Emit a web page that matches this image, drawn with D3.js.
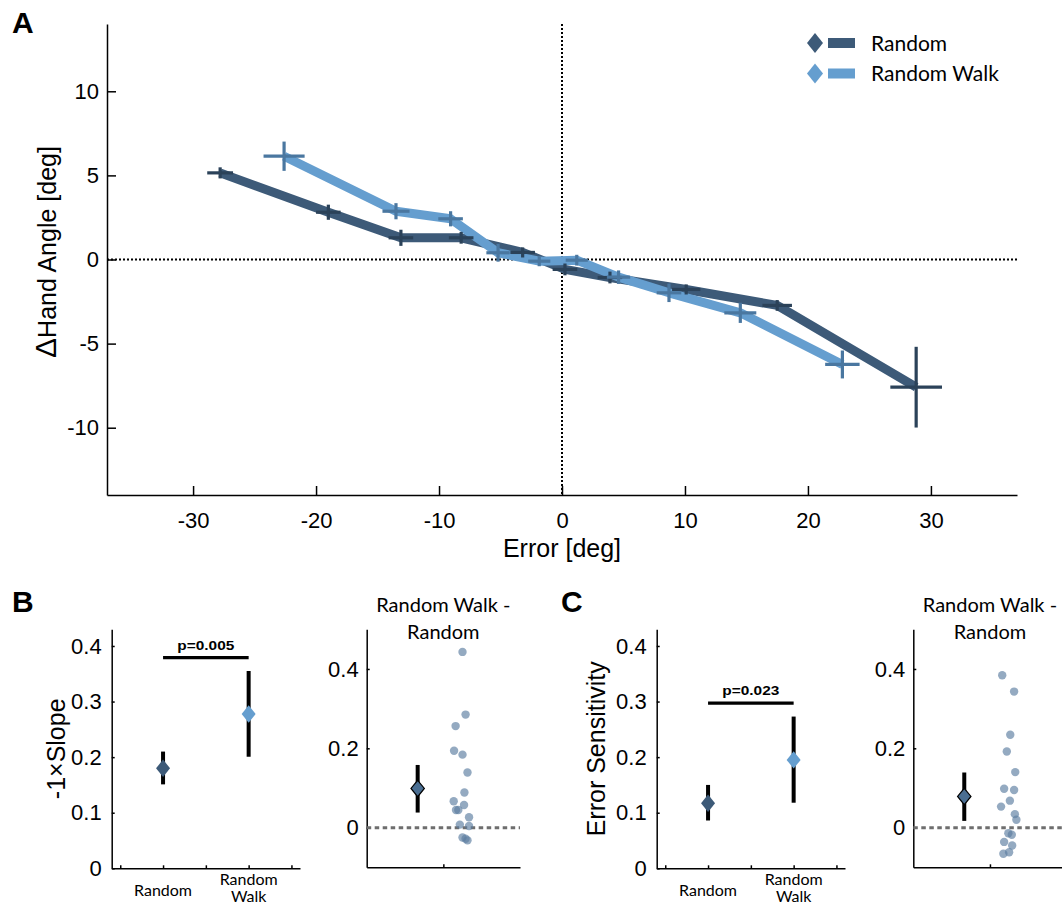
<!DOCTYPE html>
<meta charset="utf-8">
<style>
body { margin: 0; background: #fff; }
svg { display: block; }
.tick text { font-family: "Liberation Sans", Arial, sans-serif; font-size: 22px; fill: #000; }
.axis path, .axis line { stroke: #000; stroke-width: 1.5; fill: none; }
.cal { font-family: Lato, "Open Sans", sans-serif; fill: #000; }
</style>
<body>
<script src="https://d3js.org/d3.v7.min.js"></script>
<script>
// panel A: binned error vs change in hand angle
var errRandom   = [-27.8, -19.0, -13.1, -8.2, -3.2, 0.24, 3.9, 10.1, 17.5, 28.8];
var dhaRandom   = [5.15, 2.81, 1.29, 1.29, 0.42, -0.59, -1.07, -1.78, -2.73, -7.59];
var errSeRandom = [1.05, 1.0, 1.0, 1.0, 1.0, 1.0, 1.0, 1.15, 1.2, 2.1];
var dhaSeRandom = [0.33, 0.45, 0.48, 0.35, 0.3, 0.35, 0.35, 0.3, 0.32, 2.4];

var errWalk   = [-22.6, -13.5, -9.06, -5.2, -1.85, 1.2, 4.6, 8.7, 14.5, 22.8];
var dhaWalk   = [6.14, 2.87, 2.42, 0.4, -0.1, -0.04, -1.05, -1.98, -3.17, -6.24];
var errSeWalk = [1.67, 1.1, 1.0, 0.95, 0.9, 0.9, 0.95, 1.0, 1.3, 1.4];
var dhaSeWalk = [0.87, 0.48, 0.45, 0.53, 0.3, 0.32, 0.4, 0.55, 0.6, 0.83];

var xTicksA = [-30, -20, -10, 0, 10, 20, 30];
var yTicksA = [-10, -5, 0, 5, 10];

// panels B and C: group means with CI
var groups = ["Random", "Random Walk"];
var slopeMean = [0.18, 0.2775];
var slopeLo   = [0.151, 0.2007];
var slopeHi   = [0.21, 0.355];
var slopeP    = "p=0.005";
var slopeBar  = 0.379;

var sensMean = [0.117, 0.195];
var sensLo   = [0.086, 0.118];
var sensHi   = [0.15, 0.273];
var sensP    = "p=0.023";
var sensBar  = 0.297;

// difference (Random Walk - Random), per participant
var slopeDiff = [0.443, 0.285, 0.256, 0.194, 0.184, 0.139, 0.0886, 0.0666, 0.057, 0.0446, 0.0446, 0.026, 0.0076, 0.004, -0.025, -0.028, -0.032];
var slopeDiffX = [2.50, 2.58, 2.32, 2.28, 2.50, 2.63, 2.55, 2.27, 2.54, 2.33, 2.39, 2.67, 2.43, 2.67, 2.50, 2.58, 2.63];
var slopeDiffMean = 0.0987, slopeDiffLo = 0.038, slopeDiffHi = 0.158;

var sensDiff = [0.384, 0.343, 0.234, 0.192, 0.14, 0.098, 0.095, 0.068, 0.053, 0.034, 0.020, -0.014, -0.018, -0.036, -0.045, -0.062, -0.066];
var sensDiffX = [2.32, 2.63, 2.53, 2.44, 2.66, 2.37, 2.63, 2.52, 2.29, 2.65, 2.69, 2.48, 2.57, 2.37, 2.58, 2.50, 2.35];
var sensDiffMean = 0.0785, sensDiffLo = 0.017, sensDiffHi = 0.139;

var dark = "#3d5a78", light = "#659ecf";
var darkCross = "#2b4259", lightCross = "#4a77a0";

var svg = d3.select("body").append("svg")
    .attr("width", 1062)
    .attr("height", 905);

function diamond(hw, hh) {
  return "M0," + (-hh) + "L" + hw + ",0L0," + hh + "L" + (-hw) + ",0Z";
}

// plain hyphen for negatives, like the original
function plain(d) { return String(d); }

// ---------- panel A ----------
var x = d3.scaleLinear().domain([-37, 37]).range([107, 1017]);
var y = d3.scaleLinear().domain([-14, 14]).range([495, 24]);

svg.append("g")
    .attr("class", "axis")
    .attr("transform", "translate(0," + y(-14) + ")")
    .call(d3.axisBottom(x).tickValues(xTicksA).tickFormat(plain).tickSizeInner(-9).tickSizeOuter(0).tickPadding(17));

svg.append("g")
    .attr("class", "axis")
    .attr("transform", "translate(" + x(-37) + ",0)")
    .call(d3.axisLeft(y).tickValues(yTicksA).tickFormat(plain).tickSizeInner(-9).tickSizeOuter(0).tickPadding(8));

// zero reference lines
svg.append("line")
    .attr("x1", x(-37)).attr("x2", x(37))
    .attr("y1", y(0)).attr("y2", y(0))
    .style("stroke", "#000").style("stroke-width", 2).style("stroke-dasharray", "2,2");
svg.append("line")
    .attr("x1", x(0)).attr("x2", x(0))
    .attr("y1", y(14)).attr("y2", y(-14))
    .style("stroke", "#000").style("stroke-width", 2).style("stroke-dasharray", "2,2");

var line = d3.line()
    .x(function(d) { return x(d[0]); })
    .y(function(d) { return y(d[1]); });

var ptsR = errRandom.map(function(e, i) { return [e, dhaRandom[i], errSeRandom[i], dhaSeRandom[i]]; });
var ptsW = errWalk.map(function(e, i) { return [e, dhaWalk[i], errSeWalk[i], dhaSeWalk[i]]; });

svg.append("path").datum(ptsR)
    .attr("d", line)
    .style("fill", "none").style("stroke", dark).style("stroke-width", 9).style("stroke-linejoin", "round");
svg.append("path").datum(ptsW)
    .attr("d", line)
    .style("fill", "none").style("stroke", light).style("stroke-width", 9).style("stroke-linejoin", "round");

function crosses(pts, color) {
  var g = svg.append("g").style("stroke", color).style("stroke-width", 3.2);
  g.selectAll(".h").data(pts).enter().append("line")
      .attr("x1", function(d) { return x(d[0] - d[2]); })
      .attr("x2", function(d) { return x(d[0] + d[2]); })
      .attr("y1", function(d) { return y(d[1]); })
      .attr("y2", function(d) { return y(d[1]); });
  g.selectAll(".v").data(pts).enter().append("line")
      .attr("x1", function(d) { return x(d[0]); })
      .attr("x2", function(d) { return x(d[0]); })
      .attr("y1", function(d) { return y(d[1] - d[3]); })
      .attr("y2", function(d) { return y(d[1] + d[3]); });
}
crosses(ptsR, darkCross);
crosses(ptsW, lightCross);

svg.append("text")
    .attr("x", x(0)).attr("y", 557)
    .attr("text-anchor", "middle")
    .style("font-family", "Liberation Sans, Arial, sans-serif")
    .style("font-size", "25px")
    .text("Error [deg]");

var yl = svg.append("text")
    .attr("transform", "translate(56,252) rotate(-90)")
    .attr("text-anchor", "middle")
    .style("font-family", "Liberation Sans, Arial, sans-serif")
    .style("font-size", "25px");
yl.append("tspan").style("font-size", "30px").text("\u0394");
yl.append("tspan").text("Hand Angle [deg]");

// legend
var legend = svg.selectAll(".legend")
    .data([[groups[0], dark], [groups[1], light]])
  .enter().append("g")
    .attr("class", "legend")
    .attr("transform", function(d, i) { return "translate(815," + (43 + i * 30.5) + ")"; });
legend.append("path")
    .attr("d", diamond(8, 10))
    .style("fill", function(d) { return d[1]; });
legend.append("rect")
    .attr("x", 13).attr("y", -5).attr("width", 27).attr("height", 10)
    .style("fill", function(d) { return d[1]; });
legend.append("text")
    .attr("class", "cal")
    .attr("x", 56).attr("y", 7.5)
    .style("font-size", "21px")
    .text(function(d) { return d[0]; });

// panel letters
[["A", 12, 33], ["B", 12, 612], ["C", 561, 612]].forEach(function(l) {
  svg.append("text")
      .attr("x", l[1]).attr("y", l[2])
      .style("font-family", "Liberation Sans, Arial, sans-serif")
      .style("font-weight", "bold")
      .style("font-size", "30px")
      .text(l[0]);
});

// ---------- panels B / C ----------
function groupPanel(left, mean, lo, hi, barY, pText, ylabel, ylabelX) {
  var gx = d3.scaleLinear().domain([0.4, 2.6]).range([left, left + 188.3]);
  var gy = d3.scaleLinear().domain([0, 0.43]).range([868.3, 629.3]);

  svg.append("g")
      .attr("class", "axis")
      .attr("transform", "translate(0," + gy(0) + ")")
      .call(d3.axisBottom(gx).tickValues([0.5, 1, 1.5, 2, 2.5]).tickSizeInner(-3).tickSizeOuter(0).tickFormat(""));
  svg.append("g")
      .attr("class", "axis")
      .attr("transform", "translate(" + left + ",0)")
      .call(d3.axisLeft(gy).tickValues([0, 0.1, 0.2, 0.3, 0.4]).tickSizeInner(-3).tickSizeOuter(0).tickPadding(10)
        .tickFormat(function(d) { return d === 0 ? "0" : d3.format(".1f")(d); }));

  svg.append("text").attr("class", "cal")
      .attr("x", gx(1)).attr("y", 896).attr("text-anchor", "middle")
      .style("font-size", "16px").text(groups[0]);
  svg.append("text").attr("class", "cal")
      .attr("x", gx(2)).attr("y", 885).attr("text-anchor", "middle")
      .style("font-size", "16px").text("Random");
  svg.append("text").attr("class", "cal")
      .attr("x", gx(2)).attr("y", 902).attr("text-anchor", "middle")
      .style("font-size", "16px").text("Walk");

  // significance bar
  svg.append("line")
      .attr("x1", gx(1)).attr("x2", gx(2))
      .attr("y1", gy(barY)).attr("y2", gy(barY))
      .style("stroke", "#000").style("stroke-width", 3.3);
  svg.append("text")
      .attr("x", (gx(1) + gx(2)) / 2).attr("y", gy(barY) - 8)
      .attr("text-anchor", "middle")
      .attr("textLength", 57).attr("lengthAdjust", "spacingAndGlyphs")
      .style("font-family", "Liberation Sans, Arial, sans-serif")
      .style("font-weight", "bold").style("font-size", "13px")
      .text(pText);

  var cols = [dark, light];
  mean.forEach(function(m, i) {
    svg.append("line")
        .attr("x1", gx(i + 1)).attr("x2", gx(i + 1))
        .attr("y1", gy(lo[i])).attr("y2", gy(hi[i]))
        .style("stroke", "#000").style("stroke-width", 4);
    svg.append("path")
        .attr("transform", "translate(" + gx(i + 1) + "," + gy(m) + ")")
        .attr("d", diamond(7, 8.7))
        .style("fill", cols[i]);
  });

  svg.append("text")
      .attr("transform", "translate(" + ylabelX + "," + gy(0.215) + ") rotate(-90)")
      .attr("text-anchor", "middle")
      .style("font-family", "Liberation Sans, Arial, sans-serif")
      .style("font-size", "25px")
      .text(ylabel);
}

function diffPanel(left, vals, xs, mean, lo, hi) {
  var dx = d3.scaleLinear().domain([0, 4]).range([left, left + 153.3]);
  var dy = d3.scaleLinear().domain([-0.1, 0.5]).range([867.3, 629.3]);

  svg.append("g")
      .attr("class", "axis")
      .attr("transform", "translate(0," + dy(-0.1) + ")")
      .call(d3.axisBottom(dx).tickValues([2]).tickSizeInner(-3).tickSizeOuter(0).tickFormat(""));
  svg.append("g")
      .attr("class", "axis")
      .attr("transform", "translate(" + left + ",0)")
      .call(d3.axisLeft(dy).tickValues([0, 0.2, 0.4]).tickSizeInner(-3).tickSizeOuter(0).tickPadding(8)
        .tickFormat(function(d) { return d === 0 ? "0" : d3.format(".1f")(d); }));

  svg.append("line")
      .attr("x1", dx(0)).attr("x2", dx(4))
      .attr("y1", dy(0)).attr("y2", dy(0))
      .style("stroke", "#6e6e6e").style("stroke-width", 3).style("stroke-dasharray", "4.5,3.5");

  svg.selectAll(null).data(vals).enter().append("circle")
      .attr("cx", function(d, i) { return dx(xs[i]); })
      .attr("cy", function(d) { return dy(d); })
      .attr("r", 4.2)
      .style("fill", "#5a7da0")
      .style("opacity", 0.65);

  svg.append("line")
      .attr("x1", dx(1.33)).attr("x2", dx(1.33))
      .attr("y1", dy(lo)).attr("y2", dy(hi))
      .style("stroke", "#000").style("stroke-width", 4);
  svg.append("path")
      .attr("transform", "translate(" + dx(1.33) + "," + dy(mean) + ")")
      .attr("d", diamond(6.7, 8.2))
      .style("fill", "#4a6e92").style("stroke", "#000").style("stroke-width", 1.2);

  svg.append("text").attr("class", "cal")
      .attr("x", dx(2)).attr("y", 612).attr("text-anchor", "middle")
      .style("font-size", "20px").text("Random Walk -");
  svg.append("text").attr("class", "cal")
      .attr("x", dx(2)).attr("y", 639).attr("text-anchor", "middle")
      .style("font-size", "20px").text("Random");
}

groupPanel(111.7, slopeMean, slopeLo, slopeHi, slopeBar, slopeP, "-1\u00d7Slope", 65);
diffPanel(366.7, slopeDiff, slopeDiffX, slopeDiffMean, slopeDiffLo, slopeDiffHi);
groupPanel(656.7, sensMean, sensLo, sensHi, sensBar, sensP, "Error Sensitivity", 605);
diffPanel(913.3, sensDiff, sensDiffX, sensDiffMean, sensDiffLo, sensDiffHi);
</script>
